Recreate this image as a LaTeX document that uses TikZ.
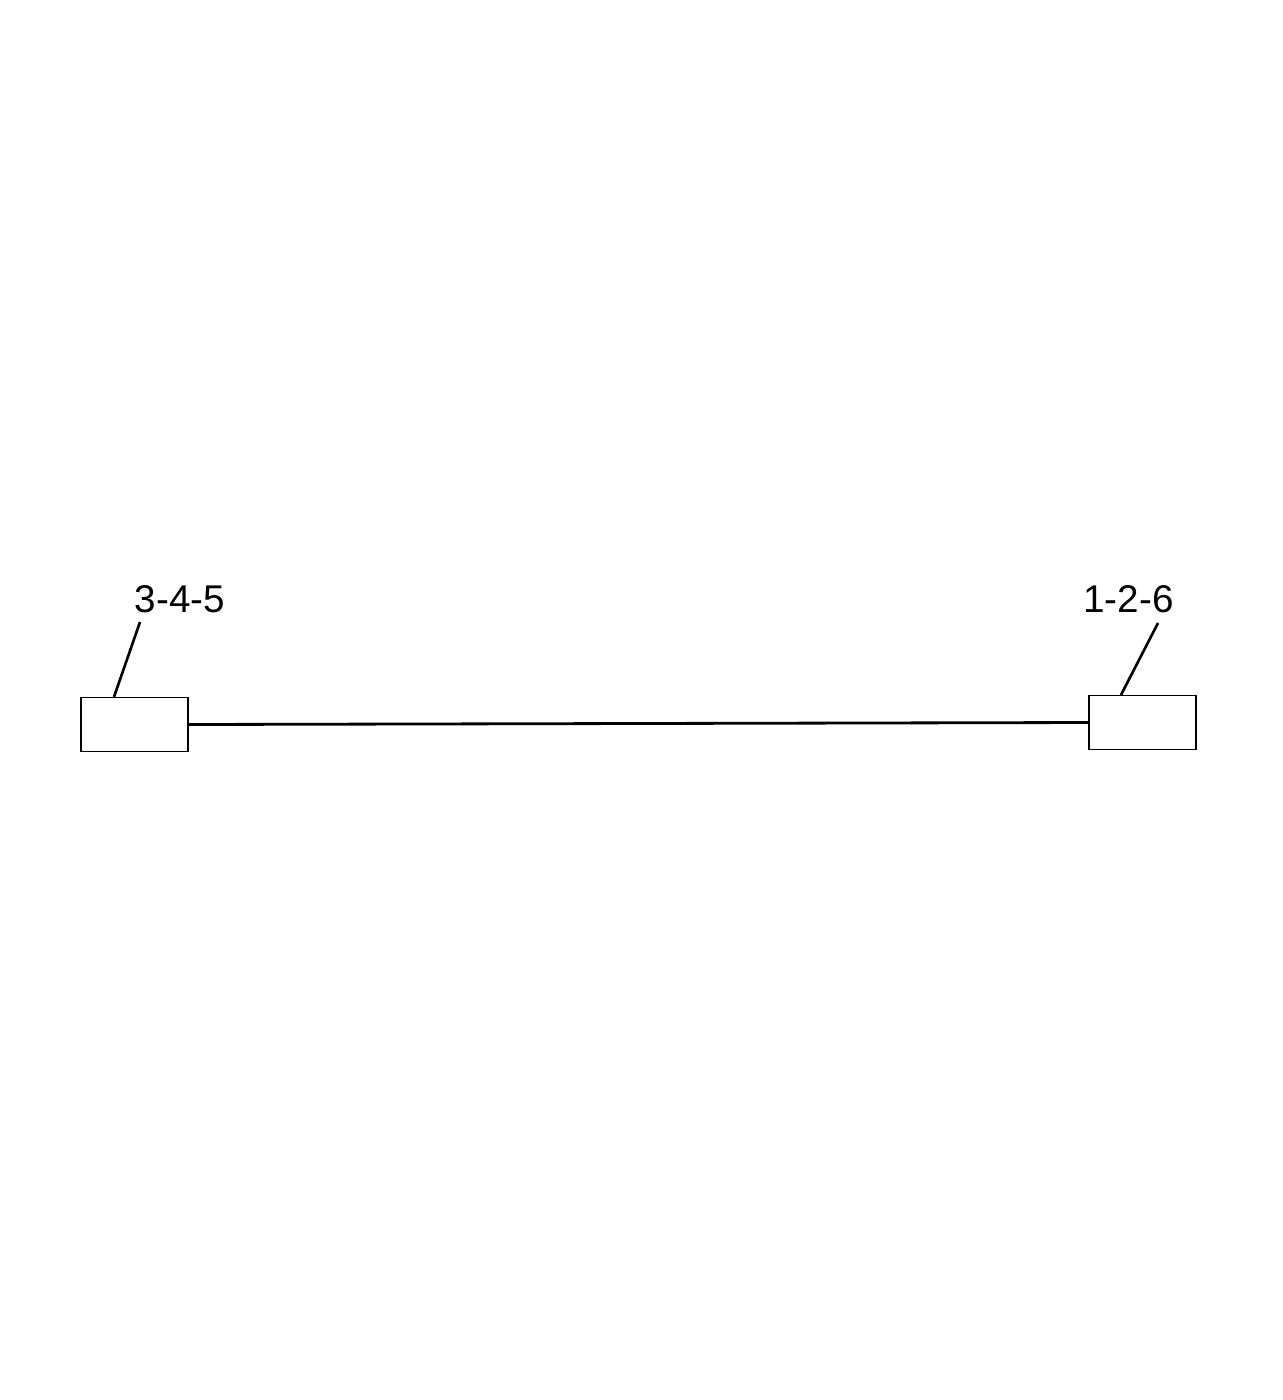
\documentclass[tikz,border=0pt]{standalone}
\usepackage{fontspec}
\setmainfont{Liberation Sans}
\usetikzlibrary{positioning}

\begin{document}
\begin{tikzpicture}[
            x=0.02cm, y=-0.02cm,
            conn/.style={rectangle, draw=black, line width=0.7pt, fill=white, minimum width=2.14cm, minimum height=1.08cm, inner sep=0pt},
            tag/.style={font=\fontsize{22}{24}\selectfont, inner sep=0pt},
            wire/.style={line width=1.6pt},
            leader/.style={line width=1.5pt}
        ]

        \useasboundingbox (0,0) rectangle (1283,1400);

        \node[conn] (lbox) at (134.5,724.5) {};
        \node[conn] (rbox) at (1142.5,722.5) {};

        \draw[wire] (lbox.east) -- (rbox.west);

        \node[tag] (ltag) at (180,599) {3-4-5};
        \node[tag] (rtag) at (1128.5,599) {1-2-6};

        \coordinate (lfoot) at (140,622);
        \coordinate (rfoot) at (1158,623);

        \draw[leader] (lfoot) -- ([xshift=-0.41cm]lbox.north);
        \draw[leader] (rfoot) -- ([xshift=-0.43cm]rbox.north);

    \end{tikzpicture}
\end{document}
